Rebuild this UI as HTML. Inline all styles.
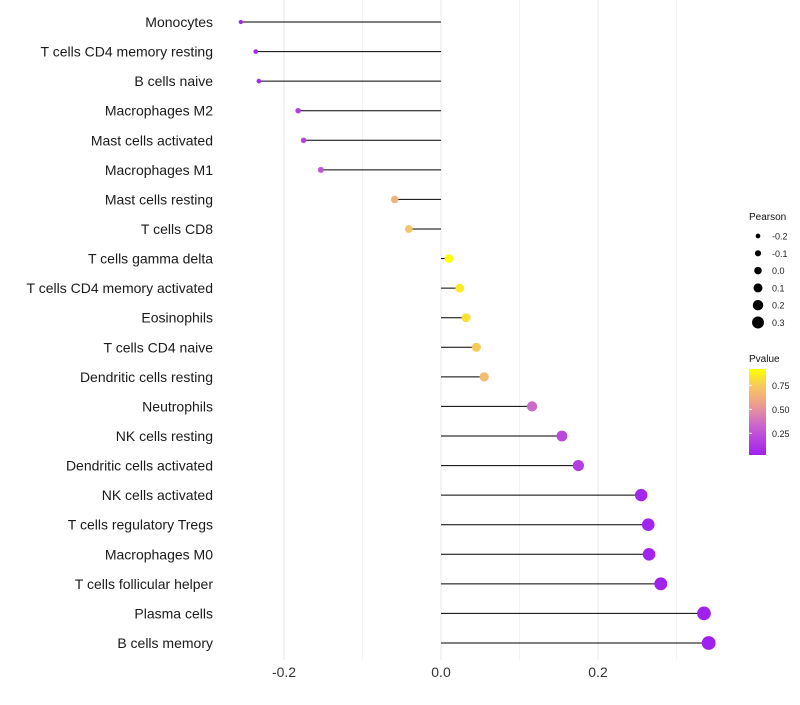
<!DOCTYPE html>
<html><head><meta charset="utf-8"><style>
body{margin:0;background:#fff}
svg{font-family:"Liberation Sans",Arial,sans-serif}
</style></head><body>
<svg id="chart" width="800" height="700">
<defs><linearGradient id="pg" x1="0" y1="1" x2="0" y2="0">
<stop offset="0" stop-color="#a020f0"/><stop offset="0.35" stop-color="#cc66cc"/><stop offset="0.6" stop-color="#eea08a"/><stop offset="0.8" stop-color="#f6c860"/><stop offset="1" stop-color="#ffff00"/></linearGradient></defs>
<g id="grid"></g><g id="marks"></g><g id="labels"></g><g id="legend"></g>
</svg>
<script>
const categories=["Monocytes","T cells CD4 memory resting","B cells naive","Macrophages M2","Mast cells activated","Macrophages M1","Mast cells resting","T cells CD8","T cells gamma delta","T cells CD4 memory activated","Eosinophils","T cells CD4 naive","Dendritic cells resting","Neutrophils","NK cells resting","Dendritic cells activated","NK cells activated","T cells regulatory  Tregs","Macrophages M0","T cells follicular helper","Plasma cells","B cells memory"];
const pearson=[-0.255,-0.236,-0.232,-0.182,-0.175,-0.153,-0.059,-0.041,0.010,0.024,0.032,0.045,0.055,0.116,0.154,0.175,0.255,0.264,0.265,0.280,0.335,0.341];
const pvalue=[0.05,0.05,0.07,0.15,0.18,0.25,0.65,0.72,0.92,0.85,0.82,0.75,0.68,0.35,0.2,0.15,0.05,0.04,0.04,0.03,0.02,0.02];
const xTicks=[-0.2,0.0,0.2];
const xTickLabels=["-0.2","0.0","0.2"];
const minorTicks=[-0.1,0.1,0.3];
const sizeLegend=[-0.2,-0.1,0.0,0.1,0.2,0.3];
const sizeLegendLabels=["-0.2","-0.1","0.0","0.1","0.2","0.3"];
const pTicks=[0.25,0.5,0.75];
const pTickLabels=["0.25","0.50","0.75"];
const NS="http://www.w3.org/2000/svg";
const x=v=>441+v*785;
const y=i=>22+i*(621/21);
const r=v=>4.2+v*8;
const stops=[[0,[160,32,240]],[0.35,[204,102,204]],[0.6,[238,160,138]],[0.8,[246,200,96]],[1,[255,255,0]]];
function col(p){let t=(p-0.02)/(0.92-0.02);t=Math.max(0,Math.min(1,t));
for(let k=1;k<stops.length;k++){if(t<=stops[k][0]){const a=stops[k-1],b=stops[k],f=(t-a[0])/(b[0]-a[0]);
return "rgb("+a[1].map((c,j)=>Math.round(c+(b[1][j]-c)*f)).join(",")+")";}}return "rgb(255,255,0)";}
function mk(tag,attrs,parent){const e=document.createElementNS(NS,tag);for(const k in attrs)e.setAttribute(k,attrs[k]);document.getElementById(parent).appendChild(e);return e;}
minorTicks.forEach(v=>{const l=mk("line",{x1:x(v),x2:x(v),y1:0,y2:660,stroke:"#f3f3f3","stroke-width":1},"grid");

});
xTicks.forEach((v,i)=>{const l=mk("line",{x1:x(v),x2:x(v),y1:0,y2:660,stroke:"#e8e8e8","stroke-width":1},"grid");


const t=mk("text",{x:x(v),y:677,"text-anchor":"middle","font-size":14,fill:"#333"},"labels");t.textContent=xTickLabels[i];

});
categories.forEach((c,i)=>{
const t=mk("text",{x:213,y:y(i)+5,"text-anchor":"end","font-size":14,fill:"#1a1a1a"},"labels");t.textContent=c;


const l=mk("line",{x1:x(0),x2:x(pearson[i]),y1:y(i),y2:y(i),stroke:"#000","stroke-width":1},"marks");


const d=mk("circle",{cx:x(pearson[i]),cy:y(i),r:r(pearson[i]),fill:col(pvalue[i])},"marks");

});
let tt=mk("text",{x:749,y:220,"font-size":10,fill:"#111"},"legend");tt.textContent="Pearson";


sizeLegend.forEach((v,i)=>{const cy=236+i*17.3;
const c=mk("circle",{cx:758,cy:cy,r:r(v)*0.9,fill:"#000"},"legend");


const t=mk("text",{x:772,y:cy+3.5,"font-size":9,fill:"#222"},"legend");t.textContent=sizeLegendLabels[i];

});
tt=mk("text",{x:749,y:362,"font-size":10,fill:"#111"},"legend");tt.textContent="Pvalue";


const bar=mk("rect",{x:749,y:369,width:17,height:86,fill:"url(#pg)"},"legend");


pTicks.forEach((p,i)=>{const yy=369+(0.92-p)*96;
const t=mk("text",{x:772,y:yy+3.5,"font-size":9,fill:"#222"},"legend");t.textContent=pTickLabels[i];


const tl=mk("line",{x1:749,x2:752,y1:yy,y2:yy,stroke:"#fff"},"legend");

});
</script>
</body></html>
